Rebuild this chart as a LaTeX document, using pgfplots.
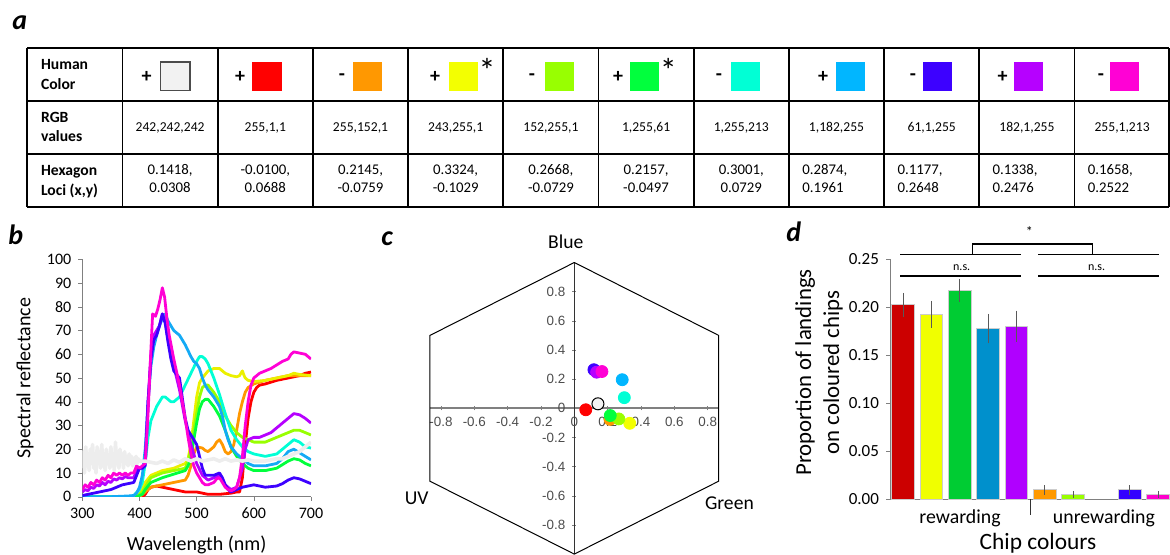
\documentclass[border=0pt]{standalone}
\usepackage{fontspec}
\setmainfont{Carlito}
\newfontfamily\arial{Liberation Sans}
\usepackage{pgfplots}
\pgfplotsset{compat=1.18}
\definecolor{cwhite}{RGB}{242,242,242}
\definecolor{cred}{RGB}{255,1,1}
\definecolor{corange}{RGB}{255,152,1}
\definecolor{cyellow}{RGB}{243,255,1}
\definecolor{clime}{RGB}{152,255,1}
\definecolor{cgreen}{RGB}{1,255,61}
\definecolor{ccyan}{RGB}{1,255,213}
\definecolor{csky}{RGB}{1,182,255}
\definecolor{cindigo}{RGB}{61,1,255}
\definecolor{cpurple}{RGB}{182,1,255}
\definecolor{cmagenta}{RGB}{255,1,213}
\definecolor{byellow}{RGB}{235,240,0}
\definecolor{bsky}{RGB}{20,170,245}
\definecolor{dred}{RGB}{204,0,0}
\definecolor{dyellow}{RGB}{240,255,0}
\definecolor{dgreen}{RGB}{0,204,51}
\definecolor{dblue}{RGB}{0,144,204}
\definecolor{dpurple}{RGB}{176,0,255}
\definecolor{dorange}{RGB}{255,153,0}
\definecolor{dlime}{RGB}{153,255,0}
\definecolor{dindigo}{RGB}{51,0,255}
\definecolor{dmagenta}{RGB}{255,0,204}
\newcommand{\rgbfont}{\fontsize{6.8}{8}\selectfont}
\newcommand{\locfont}{\fontsize{7.4}{9}\selectfont}
\newcommand{\labfont}{\bfseries\fontsize{7.8}{9}\selectfont}
\newcommand{\signfont}{\bfseries\fontsize{10}{11}\selectfont}
\newcommand{\panfont}{\bfseries\itshape\fontsize{14}{16}\selectfont}
\newcommand{\rgbcell}[2]{\node[font=\rgbfont] at (#1,127.7) {#2};}
\newcommand{\locic}[3]{\node[font=\locfont, anchor=base, inner sep=0pt] at (#1,174.7) {#2,};\node[font=\locfont, anchor=base, inner sep=0pt] at (#1,192.4) {#3};}
\newcommand{\locil}[3]{\node[font=\locfont, anchor=base west, inner sep=0pt] at (#1,174.7) {#2,};\node[font=\locfont, anchor=base west, inner sep=0pt] at (#1,192.4) {#3};}
\begin{document}
\begin{tikzpicture}
\useasboundingbox (0,0) rectangle (585pt,-277.5pt);
\begin{scope}[x=0.5pt,y=-0.5pt]
% panel letters
\node[font=\panfont, anchor=base west, inner sep=0pt] at (12,30) {a};
\node[font=\panfont, anchor=base west, inner sep=0pt] at (8,245) {b};
\node[font=\panfont, anchor=base west, inner sep=0pt] at (381,246) {c};
\node[font=\panfont, anchor=base west, inner sep=0pt] at (786,242) {d};
% table grid
\foreach \yy in {48.3,100.7,154,206.7} \draw[line width=0.9pt] (27.3,\yy) -- (1168.8,\yy);
\foreach \k in {0,...,11} \draw[line width=0.9pt] ({27.3+95.2*\k},48.3) -- ({27.3+95.2*\k},206.7);
\draw[line width=0.9pt] (1168.8,48.3) -- (1168.8,206.7);
% row headers
\node[font=\labfont, anchor=base west, inner sep=0pt] at (40.7,70) {Human};
\node[font=\labfont, anchor=base west, inner sep=0pt] at (40.7,90) {Color};
\node[font=\labfont, anchor=base west, inner sep=0pt] at (40.7,123) {RGB};
\node[font=\labfont, anchor=base west, inner sep=0pt] at (40.7,141.7) {values};
\node[font=\labfont, anchor=base west, inner sep=0pt] at (40.7,176) {Hexagon};
\node[font=\labfont, anchor=base west, inner sep=0pt] at (40.7,196) {Loci (x,y)};
% colour chips
\foreach \sx/\bx/\col/\sg in {240/252.3/cred/+, 342/353/corange/-, 435/449/cyellow/+, 532/545/clime/-, 618/630/cgreen/+, 719/731/ccyan/-, 823/836/csky/+, 913/923/cindigo/-, 1002.5/1014/cpurple/+, 1101/1110/cmagenta/-}
{ \node[font=\signfont] at (\sx,77) {\sg};
  \fill[\col] (\bx,61.7) rectangle ++(29.3,29); }
\node[font=\signfont] at (146.7,77) {+};
\draw[fill=cwhite, draw=black!70, line width=0.6pt] (160.7,62) rectangle (190,90.5);
\node[font=\fontsize{17}{17}\selectfont, anchor=base, inner sep=0pt] at (487,83) {*};
\node[font=\fontsize{17}{17}\selectfont, anchor=base, inner sep=0pt] at (668.4,83) {*};
% RGB values
\rgbcell{170.1}{242,242,242}
\rgbcell{265.3}{255,1,1}
\rgbcell{360.5}{255,152,1}
\rgbcell{455.7}{243,255,1}
\rgbcell{550.9}{152,255,1}
\rgbcell{646.1}{1,255,61}
\rgbcell{741.3}{1,255,213}
\rgbcell{836.5}{1,182,255}
\rgbcell{931.7}{61,1,255}
\rgbcell{1026.9}{182,1,255}
\rgbcell{1122.1}{255,1,213}
% hexagon loci
\locic{170.1}{0.1418}{0.0308}
\locic{265.3}{-0.0100}{0.0688}
\locic{360.5}{0.2145}{-0.0759}
\locic{455.7}{0.3324}{-0.1029}
\locic{550.9}{0.2668}{-0.0729}
\locic{646.1}{0.2157}{-0.0497}
\locic{741.3}{0.3001}{0.0729}
\locil{801.9}{0.2874}{0.1961}
\locil{897.1}{0.1177}{0.2648}
\locil{992.3}{0.1338}{0.2476}
\locil{1087.5}{0.1658}{0.2522}
% hexagon corner labels
\node[font=\fontsize{9.8}{11}\selectfont] at (565.7,241.7) {Blue};
\node[font=\fontsize{9.8}{11}\selectfont] at (416.7,498.5) {UV};
\node[font=\fontsize{9.8}{11}\selectfont] at (729.4,503.3) {Green};
\end{scope}

% ---------------- panel b
\begin{axis}[at={(41.15pt,-248.35pt)}, anchor=south west, scale only axis,
  width=114.35pt, height=118.7pt, xmin=300, xmax=700, ymin=0, ymax=100,
  xtick={300,400,500,600,700}, ytick={0,10,20,30,40,50,60,70,80,90,100},
  axis lines=left, axis line style={gray,-}, tick align=outside, major tick length=2pt,
  tick style={gray}, tick label style={font=\fontsize{8}{9}\selectfont},
  /pgf/number format/assume math mode=true,
  xlabel={Wavelength (nm)}, ylabel={Spectral reflectance},
  every axis x label/.style={at={(rel axis cs:0.5,-0.2035)}, anchor=center, font=\fontsize{10}{12}\selectfont},
  every axis y label/.style={at={(rel axis cs:-0.2505,0.5)}, anchor=center, rotate=90, font=\fontsize{10}{12}\selectfont},
  every axis plot/.append style={line width=1.4pt, mark=none, line join=round}]
\addplot[cred] coordinates {(300,0)(405,0)(410,1)(415,3)(420,4)(430,4.5)(440,4)(460,3)(480,2)(500,2)(510,1.5)(520,1)(540,1)(560,1.5)(570,2)(575,2)(580,8)(585,22)(590,33)(595,40)(600,44)(605,46)(610,47)(620,47.5)(640,49)(660,50)(680,51)(690,52)(700,52.5)};
\addplot[corange] coordinates {(300,0)(400,0)(405,1)(410,2)(420,4)(440,5)(460,6)(480,7)(485,9)(490,13)(495,18)(500,21)(510,20.5)(515,19.5)(520,19)(525,20)(530,21)(535,23)(540,24)(545,22)(550,19)(555,18)(560,19)(565,22)(570,28)(575,35)(580,40)(585,44)(590,46)(600,47.5)(620,49)(640,50)(660,51)(680,51)(700,51)};
\addplot[byellow] coordinates {(300,0)(390,0)(400,1)(405,3)(410,6)(420,9)(430,10)(440,11)(460,12)(480,14)(485,16)(490,22)(495,32)(500,42)(505,48)(510,50)(520,53)(530,54)(540,54)(550,52)(560,51)(570,50.5)(575,51)(580,53)(583,51)(585,50)(590,49)(600,48.5)(620,49)(640,50)(660,51)(670,52)(680,51.5)(700,51)};
\addplot[clime] coordinates {(300,0)(395,0)(405,2)(410,4)(420,8)(440,10)(460,11)(480,12)(485,15)(490,20)(495,28)(500,35)(505,42)(510,46)(515,47)(520,47)(530,44)(540,40)(550,34)(560,30)(570,27)(580,25)(590,24)(600,23)(620,23)(640,25)(650,26)(660,27)(670,28)(680,28)(690,27)(700,26)};
\addplot[cgreen] coordinates {(300,0)(395,0)(405,1)(410,3)(420,6)(440,8)(460,9.5)(480,11)(485,13)(490,16)(495,24)(500,31)(505,37)(510,40)(515,41)(520,41)(530,38)(540,34)(550,28)(560,21)(570,17)(580,14)(590,12)(600,11)(620,11)(640,12)(650,13.5)(660,15)(670,16)(680,15.5)(690,14)(700,13)};
\addplot[ccyan] coordinates {(300,0)(380,0)(390,0.5)(400,3)(405,6)(410,14)(415,25)(420,32)(430,38)(440,42)(445,42)(450,41)(455,40)(460,40)(470,42)(480,47)(490,52)(500,57)(505,59)(510,59)(515,58)(520,56)(530,50)(540,43)(550,35)(560,28)(570,24)(580,21)(590,19)(600,18)(620,17)(640,18)(650,20)(660,22)(670,24)(680,23)(690,21)(700,20.5)};
\addplot[bsky] coordinates {(300,0)(350,0)(380,0.3)(390,0.5)(395,1.5)(400,4)(405,9)(410,20)(415,40)(420,55)(425,63)(430,68)(435,72)(440,75)(445,77)(450,74)(455,72)(460,70)(470,68)(480,64)(490,59)(495,57)(500,56)(505,54)(510,50)(515,47)(520,45)(530,42)(540,38)(545,34)(550,28)(555,24)(560,21)(570,18)(580,16)(590,14)(600,13)(620,13)(640,14)(650,16)(660,19)(670,20)(680,18.5)(690,17)(700,15.5)};
\addplot[cpurple] coordinates {(300,2)(305,3)(310,2.5)(315,4)(320,3.5)(325,5)(330,4.5)(335,6)(340,5)(345,6.5)(350,6)(355,7.5)(360,7)(365,8)(370,7.5)(375,8.5)(380,8)(390,8)(395,11)(400,12)(405,12)(410,14)(415,40)(420,60)(425,68)(430,70)(435,72)(440,77)(445,74)(450,66)(460,55)(470,45)(480,32)(490,22)(500,14)(510,9)(520,7)(530,8)(540,9)(550,5)(560,3)(570,4)(580,12)(585,20)(590,24)(600,25)(610,25)(620,26)(630,27)(640,29)(650,31)(660,33)(670,35)(680,34.5)(690,33)(700,31)};
\addplot[cindigo] coordinates {(300,0.5)(310,1)(320,1.5)(330,2)(340,2.5)(350,3)(360,4)(370,5)(380,5.5)(390,6)(395,9)(400,12)(405,12)(410,13)(415,40)(420,58)(425,66)(430,68)(435,72)(440,77)(445,73)(450,65)(455,58)(460,53)(470,50)(480,33)(485,28)(490,26)(500,22)(505,17)(510,12)(515,9)(520,9)(530,9)(540,10)(545,8)(550,5)(555,3)(560,2)(570,3)(580,4)(590,4.5)(600,5)(610,4.5)(620,4)(640,4.5)(650,5.5)(660,7)(670,8)(680,7.5)(690,6.5)(700,5.5)};
\addplot[cmagenta] coordinates {(300,3)(305,5)(310,4)(315,6)(320,5)(325,7)(330,6)(335,8)(340,7)(345,9)(350,8)(355,10)(360,9)(365,10)(370,9)(375,10)(380,9)(385,10)(390,10)(395,13)(400,12)(405,13)(410,14)(415,35)(420,62)(423,77)(428,76)(432,79)(436,83)(440,88)(444,84)(448,75)(452,68)(460,58)(470,47)(480,33)(485,25)(490,18)(495,13)(500,10)(505,8)(510,6)(515,5)(520,5)(525,5.5)(530,6)(535,7.5)(540,8)(545,6)(550,4)(555,3)(560,2.5)(565,3)(570,4)(575,8)(580,17)(585,30)(590,40)(595,47)(600,50)(610,52)(620,53)(630,54)(640,55.5)(650,57)(660,58)(665,60)(670,61)(680,60.5)(690,60)(700,58)};
\addplot[black!7, line width=1.8pt] coordinates {(300,12)(302,19)(304,10)(306,21)(308,13)(310,18)(312,11)(314,20)(316,14)(318,22)(320,12)(322,17)(324,10)(326,21)(328,14)(330,19)(332,12)(334,22)(336,13)(338,18)(340,11)(342,20)(344,14)(346,17)(348,12)(350,21)(352,13)(354,18)(356,11)(358,23)(360,14)(362,19)(364,12)(366,20)(368,15)(370,18)(372,12)(374,19)(376,14)(378,17)(380,13)(382,18)(384,14)(386,17)(388,13)(390,16)(392,14)(394,17)(396,14)(398,16)(400,15)(410,15)(420,14.5)(430,14)(440,15)(450,14)(460,15.5)(470,14.5)(480,16)(490,15)(500,16)(510,15)(520,15.5)(530,16)(540,15)(550,16)(560,15)(570,15.5)(580,15)(590,15.5)(600,15)(610,15)(620,15)(630,15.5)(640,16)(650,16)(660,17)(670,18)(680,19)(690,21)(700,23)};
\end{axis}

% ---------------- panel c
\begin{axis}[at={(287.15pt,-204.15pt)}, anchor=center, scale only axis,
  width=144.35pt, height=145.8pt, xmin=-0.866, xmax=0.866, ymin=-1, ymax=1,
  axis lines=middle, hide obscured x ticks=false, hide obscured y ticks=false,
  x axis line style={gray, line width=0.9pt, -}, y axis line style={black!80, line width=0.5pt, -},
  xtick={-0.8,-0.6,-0.4,-0.2,0,0.2,0.4,0.6,0.8}, ytick={-0.8,-0.6,-0.4,-0.2,0,0.2,0.4,0.6,0.8},
  major tick length=2pt, tick style={gray},
  tick label style={font=\arial\fontsize{6.7}{8}\selectfont, text=black!70},
  /pgf/number format/assume math mode=true, clip=false]
\addplot[black, line width=0.5pt, mark=none] coordinates {(0,1)(0.866,0.5)(0.866,-0.5)(0,-1)(-0.866,-0.5)(-0.866,0.5)(0,1)};
\addplot[only marks, mark=*, mark size=3pt, mark options={draw=black, fill=cwhite, line width=0.5pt}] coordinates {(0.1418,0.0308)};
\addplot[only marks, mark=*, mark size=3pt, mark options={draw=cred, fill=cred}] coordinates {(0.0688,-0.0100)};
\addplot[only marks, mark=*, mark size=3pt, mark options={draw=corange, fill=corange}] coordinates {(0.2145,-0.0759)};
\addplot[only marks, mark=*, mark size=3pt, mark options={draw=cyellow, fill=cyellow}] coordinates {(0.3324,-0.1029)};
\addplot[only marks, mark=*, mark size=3pt, mark options={draw=clime, fill=clime}] coordinates {(0.2668,-0.0729)};
\addplot[only marks, mark=*, mark size=3pt, mark options={draw=cgreen, fill=cgreen}] coordinates {(0.2157,-0.0497)};
\addplot[only marks, mark=*, mark size=3pt, mark options={draw=ccyan, fill=ccyan}] coordinates {(0.3001,0.0729)};
\addplot[only marks, mark=*, mark size=3pt, mark options={draw=csky, fill=csky}] coordinates {(0.2874,0.1961)};
\addplot[only marks, mark=*, mark size=3pt, mark options={draw=cindigo, fill=cindigo}] coordinates {(0.1177,0.2648)};
\addplot[only marks, mark=*, mark size=3pt, mark options={draw=cpurple, fill=cpurple}] coordinates {(0.1338,0.2476)};
\addplot[only marks, mark=*, mark size=3pt, mark options={draw=cmagenta, fill=cmagenta}] coordinates {(0.1658,0.2522)};
\end{axis}

% ---------------- panel d
\begin{axis}[at={(445pt,-249.65pt)}, anchor=south west, scale only axis,
  width=140pt, height=120pt, xmin=-0.4586, xmax=9.418, ymin=0, ymax=0.25,
  ytick={0,0.05,0.1,0.15,0.2,0.25}, xtick=\empty,
  yticklabel style={/pgf/number format/.cd, fixed, fixed zerofill, precision=2},
  axis lines=left, axis line style={gray,-}, tick align=outside, major tick length=2pt,
  tick style={gray}, tick label style={font=\fontsize{8.5}{10}\selectfont},
  /pgf/number format/assume math mode=true, clip=false,
  xlabel={Chip colours}, ylabel={Proportion of landings\\on coloured chips},
  every axis x label/.style={at={(rel axis cs:0.5286,-0.182)}, anchor=center, font=\fontsize{11.7}{14}\selectfont},
  every axis y label/.style={at={(rel axis cs:-0.2536,0.529)}, anchor=center, rotate=90, align=center, font=\fontsize{11.4}{14}\selectfont},
  every axis plot/.append style={ybar, bar width=11.35pt, draw=black!20, line width=0.5pt,
     error bars/y dir=both, error bars/y explicit, error bars/error mark=none,
     error bars/error bar style={black!65, line width=0.4pt}}]
\addplot[fill=dred] coordinates {(0,0.2024) +- (0,0.0125)};
\addplot[fill=dyellow] coordinates {(1,0.1927) +- (0,0.0139)};
\addplot[fill=dgreen] coordinates {(2,0.2177) +- (0,0.0118)};
\addplot[fill=dblue] coordinates {(3,0.1778) +- (0,0.0153)};
\addplot[fill=dpurple] coordinates {(4,0.1802) +- (0,0.0163)};
\addplot[fill=dorange] coordinates {(5,0.0097) +- (0,0.0052)};
\addplot[fill=dlime] coordinates {(6,0.0052) +- (0,0.0035)};
\addplot[fill=dindigo] coordinates {(8,0.0097) +- (0,0.0052)};
\addplot[fill=dmagenta] coordinates {(9,0.0052) +- (0,0.0035)};
\draw[black!80, line width=0.6pt] (axis cs:4.5,0) -- (axis cs:4.5,-0.0167);
\node[font=\fontsize{9.9}{11}\selectfont] at (rel axis cs:0.25,-0.08) {rewarding};
\node[font=\fontsize{9.9}{11}\selectfont] at (rel axis cs:0.764,-0.08) {unrewarding};
% significance brackets
\draw[black, line width=0.6pt] (axis cs:-0.106,0.2548) -- (axis cs:4.15,0.2548);
\draw[black, line width=0.6pt] (axis cs:4.77,0.2548) -- (axis cs:9.03,0.2548);
\draw[black, line width=0.6pt] (axis cs:2.46,0.2548) -- (axis cs:2.46,0.266) -- (axis cs:6.68,0.266) -- (axis cs:6.68,0.2548);
\node[font=\fontsize{7}{8}\selectfont] at (axis cs:4.455,0.2785) {*};
\draw[black, line width=0.6pt] (axis cs:-0.106,0.2326) -- (axis cs:4.15,0.2326);
\draw[black, line width=0.6pt] (axis cs:4.77,0.2326) -- (axis cs:9.03,0.2326);
\node[font=\fontsize{6}{7}\selectfont] at (axis cs:2.07,0.2413) {n.s.};
\node[font=\fontsize{6}{7}\selectfont] at (axis cs:6.83,0.2413) {n.s.};
\end{axis}
\end{tikzpicture}
\end{document}
